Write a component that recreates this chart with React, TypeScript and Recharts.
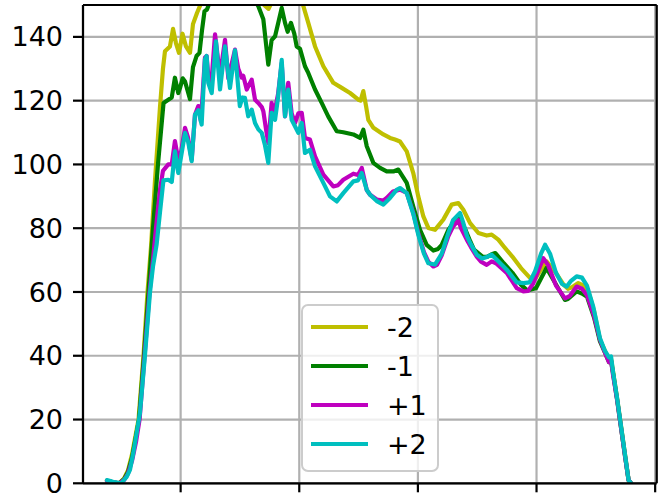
import React from "react";
import {
  LineChart,
  Line,
  XAxis,
  YAxis,
  CartesianGrid,
  ReferenceLine,
  Legend,
} from "recharts";

// ---- data ----
const xTicks = [100, 200, 300, 400, 500];
const yTicks = [0, 20, 40, 60, 80, 100, 120, 140];

const xMinus2 = [37.9, 43.0, 48.1, 52.3, 55.6, 59.0, 61.5, 64.5, 68.7, 72.1, 75.0, 78.4, 82.6, 85.1, 86.8, 91.0, 93.6, 96.1, 98.6, 101.6, 104.5, 107.9, 110.4, 113.8, 117.2, 124.7, 137.4, 154.3, 165.2, 170.3, 174.1, 177.0, 185.5, 196.4, 203.4, 207.6, 213.3, 220.3, 228.7, 235.8, 242.8, 249.8, 251.7, 254.0, 256.3, 258.2, 262.5, 270.9, 276.5, 280.7, 284.9, 290.6, 296.1, 300.3, 304.6, 308.8, 314.4, 321.4, 328.5, 334.1, 338.3, 344.0, 351.0, 358.0, 362.2, 367.8, 373.4, 379.6, 386.9, 394.1, 399.5, 403.8, 408.4, 415.6, 422.8, 426.5, 429.9, 435.2, 440.0, 444.2, 448.5, 453.5, 457.7, 461.1, 462.8, 464.5, 467.8, 471.2, 474.6, 477.6, 479.7];
const yMinus2 = [0.8, 0.3, 0, 1.5, 4, 9, 14, 20, 40, 60, 74, 95, 118, 130, 135.5, 137, 142.5, 138, 135, 141, 137, 135, 144, 147.5, 150.5, 154, 157, 157, 153, 150, 148.8, 151, 157, 156, 149.7, 144.4, 137, 130.8, 125.6, 124, 122.4, 120.3, 120, 123, 118.3, 114, 111.5, 109.4, 108.3, 107.8, 107.2, 104.1, 97.3, 90, 83.7, 80.1, 79.5, 82.7, 87.4, 87.9, 85.8, 81.6, 78.5, 77.7, 78, 76.4, 73.8, 71.1, 67.5, 64.6, 64.5, 67, 69.6, 66.4, 62.3, 61, 61.5, 62.8, 62, 59.5, 54, 45, 41.5, 38.5, 39, 35, 27, 18, 9, 1, 0];

const xMinus1 = [37.9, 43.0, 48.1, 52.3, 55.6, 59.0, 61.5, 64.9, 69.1, 72.9, 76.7, 80.9, 85.6, 89.6, 92.5, 95.2, 98.0, 99.5, 101.7, 103.7, 107.9, 110.4, 113.4, 115.9, 118.0, 120.1, 122.2, 124.7, 133.2, 145.8, 158.5, 165.5, 169.7, 172.5, 173.9, 176.7, 179.6, 182.3, 185.2, 188.0, 190.2, 193.0, 195.8, 197.8, 200.6, 204.8, 207.6, 213.3, 218.9, 224.5, 231.6, 237.1, 245.6, 251.2, 254.0, 256.9, 262.4, 268.1, 273.7, 279.3, 283.5, 290.6, 296.1, 301.8, 307.4, 313.0, 317.0, 320.1, 325.7, 331.3, 335.5, 340.1, 344.0, 347.3, 354.5, 358.3, 362.2, 365.3, 372.4, 379.7, 386.9, 392.0, 399.5, 408.4, 417.4, 424.0, 426.5, 433.8, 438.3, 442.6, 448.5, 453.5, 457.7, 461.1, 462.8, 464.5, 467.8, 471.2, 474.6, 477.6, 479.7];
const yMinus1 = [0.8, 0.3, 0, 1.3, 3.5, 8, 13, 20, 40, 60, 80, 100, 119.3, 120.3, 121, 127.2, 122.4, 124, 127, 126, 120.5, 130.5, 134, 135, 142, 148, 148.6, 151, 155, 156, 154, 149.6, 145.5, 136, 131.3, 139, 140.2, 144.4, 149.1, 144.4, 141.6, 144.4, 141, 137, 136.3, 130.8, 128.7, 123.5, 119.3, 115, 110.4, 110.1, 109.4, 108.3, 110.9, 105.7, 100.5, 98.9, 97.8, 97.8, 98.4, 94.2, 86.8, 79.5, 74.8, 73, 73.5, 74.8, 79.5, 82.3, 83, 79.5, 76, 73.3, 71.1, 71, 71.8, 72.2, 69, 66, 62.3, 60.5, 61.2, 67.5, 61.7, 57.5, 57.8, 60.2, 59.5, 58.5, 52, 44.5, 41, 38, 38.5, 34.5, 26.5, 17.5, 8.5, 1, 0];

const xPlus1 = [37.9, 43.0, 48.1, 52.3, 55.6, 59.0, 62.4, 65.4, 69.6, 73.8, 76.7, 79.2, 82.6, 85.1, 89.6, 92.5, 95.2, 98.0, 99.5, 103.7, 106.2, 109.3, 112.1, 114.9, 117.1, 120.5, 121.9, 123.5, 125.6, 129.0, 133.2, 137.4, 140.2, 143.3, 145.8, 148.6, 151.5, 152.8, 155.7, 159.9, 162.7, 165.5, 168.4, 169.7, 172.0, 173.9, 176.7, 178.9, 182.1, 185.2, 188.0, 190.7, 193.6, 196.4, 199.2, 202.1, 204.8, 209.0, 213.3, 220.3, 228.7, 232.7, 237.1, 245.6, 249.5, 252.7, 256.9, 259.7, 265.3, 270.9, 273.7, 279.0, 284.9, 290.6, 296.1, 300.3, 305.1, 308.8, 313.0, 316.1, 320.1, 325.7, 329.6, 334.1, 336.4, 341.2, 344.8, 349.6, 353.2, 358.0, 362.2, 365.8, 374.9, 383.3, 388.9, 392.8, 397.0, 401.3, 405.7, 409.7, 416.4, 424.0, 428.2, 433.8, 438.3, 442.5, 448.5, 453.5, 457.7, 461.1, 462.8, 464.5, 467.8, 471.2, 474.6, 477.6, 479.7];
const yPlus1 = [0.8, 0.3, 0, 1, 3, 7, 13, 20, 40, 60, 70, 80, 92, 98, 100, 100, 107.3, 101.5, 102, 111.5, 108.5, 101.5, 115.6, 118.3, 113.6, 133.5, 134, 127, 124, 140.8, 127.8, 139.1, 127, 132, 136, 130, 127.2, 127.8, 123.5, 126.6, 120.3, 119.3, 118, 116.7, 111, 106.7, 119.3, 116, 122, 131.8, 115.1, 125.6, 116, 113, 116, 116.2, 108.3, 107.8, 102.5, 96.8, 93.1, 93.5, 95.2, 97.1, 96.7, 98.9, 92, 90.5, 89, 88.7, 89.5, 91.5, 92.1, 91.1, 84.8, 78.5, 72.5, 69.5, 68, 68.5, 71.5, 77.5, 80.5, 82.5, 80, 76.4, 74, 71.1, 69.5, 68.5, 69.6, 69, 66, 61.2, 60.2, 60.3, 62.5, 66.5, 70.6, 68.5, 62, 58, 58.8, 61.7, 61, 59, 52.5, 45, 41, 38, 38.5, 34, 26.5, 17.5, 8.5, 1, 0];

const xPlus2 = [37.9, 43.0, 49.8, 54.5, 57.3, 60.1, 62.4, 65.7, 69.9, 74.2, 76.7, 79.8, 82.6, 85.5, 89.6, 92.5, 95.2, 98.0, 99.5, 103.7, 106.4, 109.3, 112.1, 114.9, 117.7, 120.5, 121.9, 123.3, 126.2, 129.8, 133.2, 137.4, 141.6, 145.8, 149.9, 152.1, 154.2, 157.0, 159.9, 162.7, 165.5, 168.4, 171.1, 173.9, 176.7, 179.6, 182.1, 185.2, 188.0, 190.7, 193.6, 196.4, 199.2, 202.1, 204.8, 209.0, 213.3, 220.3, 225.9, 231.6, 237.1, 245.6, 249.5, 252.7, 256.9, 259.7, 265.3, 270.9, 276.5, 282.1, 284.9, 290.6, 296.1, 300.3, 305.1, 308.8, 314.4, 320.1, 325.7, 329.6, 335.5, 338.0, 341.4, 344.0, 349.6, 354.1, 358.3, 362.2, 366.7, 374.9, 383.3, 388.9, 394.1, 398.8, 403.8, 407.2, 411.4, 416.4, 421.5, 425.5, 429.1, 433.8, 438.3, 442.5, 447.8, 453.5, 457.7, 461.1, 462.8, 464.5, 467.8, 471.2, 474.6, 477.6, 479.7];
const yPlus2 = [1, 0.5, 0, 2, 4.2, 9.5, 14.6, 22, 40, 60, 68, 75, 85, 95, 95.2, 94.5, 104.1, 97.3, 100.5, 109.9, 107, 101, 115.6, 117, 112.5, 133, 134, 125.6, 122.4, 138.6, 123.5, 137, 124, 135.8, 118.3, 121, 120.9, 115.1, 117.2, 113, 111, 109.9, 106, 100.5, 116.2, 114, 121, 132.8, 115.1, 123.5, 114, 112, 109.9, 113, 103.6, 104.6, 99.4, 94.2, 90, 88.4, 91, 94.7, 95, 97.3, 92, 90.5, 88.5, 87.4, 89.5, 92, 92.6, 91, 84.5, 78, 72, 69, 68.6, 72, 78.5, 82.5, 84.8, 82, 77.5, 75.4, 71.7, 70.5, 71, 71.7, 70, 67, 63, 62.8, 63, 66.5, 72, 74.8, 72, 66, 62.5, 61.7, 63.5, 64.9, 64.5, 62, 55.4, 45.5, 41.5, 39.5, 39.8, 35, 27, 18, 9, 1, 0];

const seriesNames = ["-2", "-1", "+1", "+2"];
const seriesColors = ["#bfbf00", "#008000", "#bf00bf", "#00bfbf"];

const zip = (xs: number[], ys: number[]) => xs.map((x, i) => ({ x, y: ys[i] }));
const seriesData = [
  zip(xMinus2, yMinus2),
  zip(xMinus1, yMinus1),
  zip(xPlus1, yPlus1),
  zip(xPlus2, yPlus2),
];

const FONT = "'DejaVu Sans', sans-serif";

const LegendBox = () => (
  <svg width={138} height={168} style={{ display: "block" }}>
    <rect
      x={1}
      y={1}
      width={136}
      height={166}
      rx={6}
      ry={6}
      fill="#ffffff"
      fillOpacity={0.8}
      stroke="#cccccc"
      strokeWidth={2}
    />
    {seriesNames.map((name, i) => {
      const cy = 23 + i * 39;
      return (
        <g key={name}>
          <line x1={10} x2={67} y1={cy} y2={cy} stroke={seriesColors[i]} strokeWidth={4.2} />
          <text
            x={86}
            y={cy}
            dy="0.36em"
            fontFamily={FONT}
            fontSize={27}
            fill="#000"
          >
            {name}
          </text>
        </g>
      );
    })}
  </svg>
);

const EmptyTick = () => <g />;

export default function App() {
  return (
    <div style={{ position: "absolute", left: 0, top: 0, background: "#fff" }}>
      <LineChart
        width={666}
        height={502}
        margin={{ top: 5, right: 9.3, bottom: 0, left: 0 }}
      >
        <CartesianGrid stroke="#b0b0b0" strokeWidth={2.2} />
        <XAxis
          type="number"
          dataKey="x"
          domain={[17.7, 501.3]}
          allowDataOverflow
          ticks={xTicks}
          height={18.7}
          tick={EmptyTick}
          tickSize={9}
          tickLine={{ stroke: "#000", strokeWidth: 2.2 }}
          axisLine={{ stroke: "#000", strokeWidth: 2.2 }}
        />
        <YAxis
          type="number"
          domain={[0, 150]}
          allowDataOverflow
          ticks={yTicks}
          width={83}
          tickSize={10}
          tickMargin={10}
          tick={{ fill: "#000", fontSize: 27, fontFamily: FONT }}
          tickLine={{ stroke: "#000", strokeWidth: 2.2 }}
          axisLine={{ stroke: "#000", strokeWidth: 2.2 }}
        />
        {seriesData.map((d, i) => (
          <Line
            key={seriesNames[i]}
            data={d}
            dataKey="y"
            name={seriesNames[i]}
            type="linear"
            stroke={seriesColors[i]}
            strokeWidth={4.2}
            strokeLinejoin="round"
            strokeLinecap="round"
            dot={false}
            activeDot={false}
            isAnimationActive={false}
          />
        ))}
        <ReferenceLine y={150} stroke="#000" strokeWidth={2.2} />
        <ReferenceLine x={501.3} stroke="#000" strokeWidth={2.2} />
        <Legend
          layout="horizontal"
          verticalAlign="middle"
          align="center"
          content={() => <LegendBox />}
          wrapperStyle={{ left: 301, top: 304, width: 138, height: 168 }}
        />
      </LineChart>
    </div>
  );
}
